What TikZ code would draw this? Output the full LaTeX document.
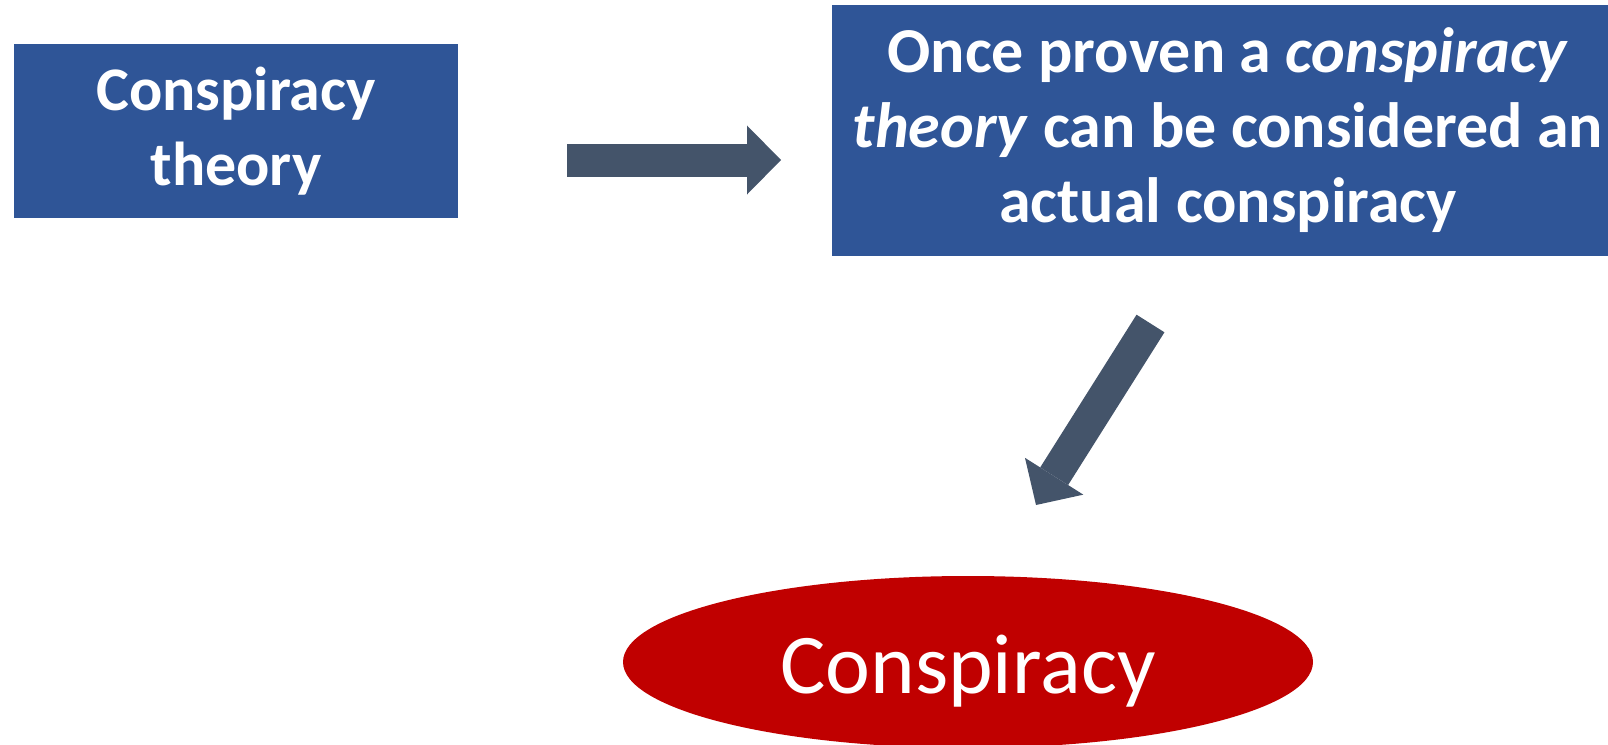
\documentclass[tikz,border=0pt]{standalone}
\usepackage{fontspec}
\setmainfont{Carlito}
\usetikzlibrary{arrows.meta,shapes.geometric}
\definecolor{boxblue}{HTML}{2F5597}
\definecolor{arrowgray}{HTML}{44546A}
\definecolor{ovalred}{HTML}{C00000}
\newcommand{\boxfont}{\fontsize{62bp}{75bp}\selectfont\bfseries}
\newcommand{\bigboxfont}{\fontsize{64bp}{75bp}\selectfont\bfseries}
\newcommand{\ovalfont}{\fontsize{85bp}{100bp}\selectfont}

\begin{document}
\begin{tikzpicture}[x=1bp,y=-1bp,
	bluebox/.style={rectangle, fill=boxblue, text=white, align=center, inner sep=0pt, font=\boxfont},
	blockarrow/.style={draw=arrowgray, line width=33bp, -{Triangle[length=34bp,width=69bp,line width=0pt]}}]
	\useasboundingbox (0,0) rectangle (1608,745);
	\clip (0,0) rectangle (1608,745);

	\node[bluebox, minimum width=444bp, minimum height=174bp] (theory) at (236,131) {Conspiracy\\theory};
	\node[bluebox, font=\bigboxfont, minimum width=792bp, minimum height=251bp] (proven) at (1228,130.5) {Once proven a \textit{conspiracy}\\\textit{theory} can be considered an\\actual conspiracy};
	\node[ellipse, fill=ovalred, text=white, minimum width=690bp, minimum height=172bp, inner sep=0pt, text height=62bp, text depth=0bp, font=\ovalfont] (consp) at (968,662) {Conspiracy};

	\coordinate (arrA) at (567,160);
	\coordinate (arrB) at (781,160);
	\coordinate (arrC) at (1150.5,323.5);
	\coordinate (arrD) at (1036,505);

	\draw[blockarrow] (arrA) -- (arrB);
	\draw[blockarrow] (arrC) -- (arrD);
\end{tikzpicture}
\end{document}
